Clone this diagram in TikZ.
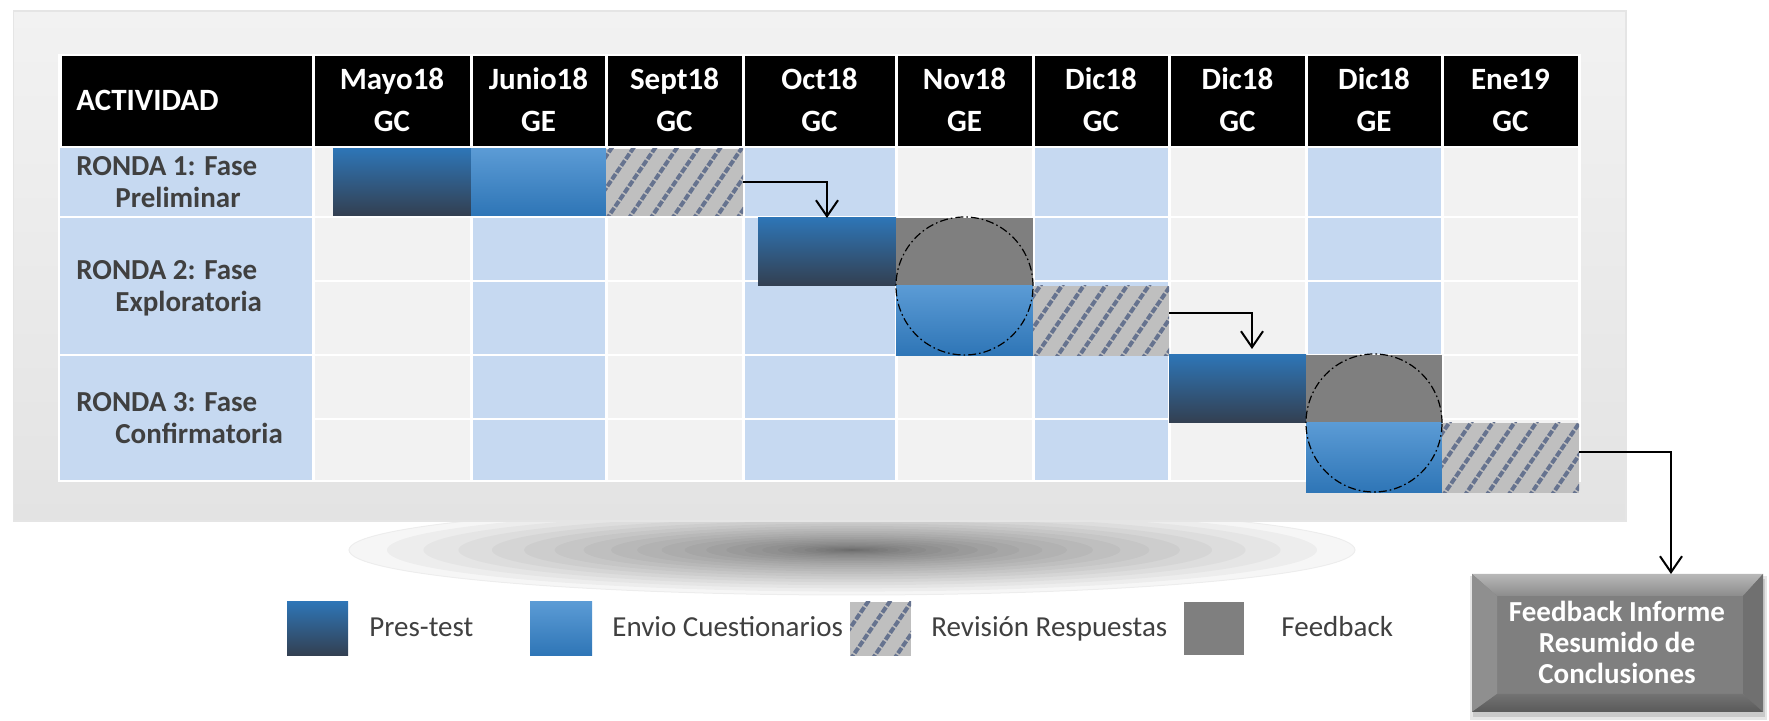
\documentclass[tikz,border=0pt]{standalone}
\usepackage{fontspec}
\setmainfont{Carlito}
\usetikzlibrary{arrows.meta,calc}
\definecolor{lb}{HTML}{C6D9F1}
\definecolor{lg}{HTML}{F2F2F2}
\definecolor{presA}{HTML}{2E75B6}
\definecolor{presB}{HTML}{333F50}
\definecolor{envA}{HTML}{5B9BD5}
\definecolor{envB}{HTML}{2E75B6}
\definecolor{fbc}{HTML}{7F7F7F}
\definecolor{hatchbg}{HTML}{BFBFBF}
\definecolor{hatchln}{HTML}{66738F}
\definecolor{txt}{HTML}{404040}
\definecolor{panA}{HTML}{F2F2F2}
\definecolor{panB}{HTML}{E3E3E3}
\newcommand\mybar[6]{\node[#6, anchor=north west, minimum width={(#4-#2)*0.5pt}, minimum height={(#5-#3)*0.5pt}] (#1) at (#2,#3) {};}
\tikzset{
  barbase/.style={rectangle, inner sep=0pt, outer sep=0pt, draw=none},
  pres/.style={barbase, top color=presA, bottom color=presB},
  envio/.style={barbase, top color=envA, bottom color=envB},
  feedb/.style={barbase, fill=fbc},
  hatchfill/.style={barbase, fill=hatchbg, path picture={
    \foreach \k in {-6,...,9}{
      \draw[hatchln, line width=2pt, dash pattern=on 3.2pt off 0.9pt]
        ([xshift=\k*10.85pt, yshift=-2pt]path picture bounding box.south west) -- ++(30pt,44pt);
    }}},
  hdrtxt/.style={anchor=base, text=white, font=\fontsize{15.5pt}{18pt}\selectfont\bfseries, inner sep=0pt},
  lbl/.style={anchor=base west, text=txt, font=\fontsize{14.5pt}{17pt}\selectfont\bfseries, inner sep=0pt},
  legtxt/.style={anchor=base west, text=txt, font=\fontsize{14.5pt}{17pt}\selectfont, inner sep=0pt},
  boxtxt/.style={anchor=base, text=white, font=\fontsize{14.5pt}{17pt}\selectfont\bfseries, inner sep=0pt},
  arr/.style={draw=black, line width=1pt, -{Straight Barb[length=8pt,width=11pt,line width=1pt]}},
  ellp/.style={draw=black, line width=0.6pt, dash pattern=on 4pt off 1.5pt on 0.8pt off 1.5pt},
}
\begin{document}
\begin{tikzpicture}[x=0.5pt,y=-0.5pt]
\useasboundingbox (0,0) rectangle (1769,721);
% shadow under panel
\foreach \k in {1,...,26}{
  \pgfmathsetmacro\s{(\k/26)^2}
  \fill[black, opacity=0.034] (852,550) ellipse [x radius=\s*251.5pt, y radius=\s*22.5pt];
}
\draw[black!7, line width=0.5pt] (852,550) ellipse [x radius=251.5pt, y radius=22.5pt];
% panel
\shade[top color=panA, bottom color=panB, draw=black!10, line width=0.6pt] (13.5,11) rectangle (1626,521);
% table base
\fill[white] (58,54) rectangle (1581,482);
% header cells
\foreach \xa/\xb in {60/313, 313/471, 471/606, 606/743, 743/896, 896/1033, 1033/1169, 1169/1306, 1306/1442, 1442/1579}{
  \fill[black] ({\xa+1.5},56) rectangle ({\xb-1.5},146);
}
% body cells
\fill[lb] (60,148) rectangle (311.5,216);
\fill[lb] (60,218) rectangle (311.5,354);
\fill[lb] (60,356) rectangle (311.5,480);
\foreach \xa/\xb/\c in {313/471/lg, 471/606/lb, 606/743/lg, 743/896/lb, 896/1033/lg, 1033/1169/lb, 1169/1306/lg, 1306/1442/lb, 1442/1579/lg}{
  \foreach \ya/\yb in {148/216, 218/280, 282/354, 356/418, 420/480}{
    \fill[\c] ({\xa+1.5},\ya) rectangle ({\xb-1.5},\yb);
  }
}
% header text
\node[hdrtxt, anchor=base west] (act) at (76,111) {ACTIVIDAD};
\foreach \xa/\xb/\ta/\tb [count=\i] in {313/471/Mayo18/GC, 471/606/Junio18/GE, 606/743/Sept18/GC, 743/896/Oct18/GC, 896/1033/Nov18/GE, 1033/1169/Dic18/GC, 1169/1306/Dic18/GC, 1306/1442/Dic18/GE, 1442/1579/Ene19/GC}{
  \node[hdrtxt] (ha\i) at ({(\xa+\xb)/2},90) {\ta};
  \node[hdrtxt] (hb\i) at ({(\xa+\xb)/2},132) {\tb};
}
% row labels
\node[lbl] (r1a) at (76,176) {RONDA 1: Fase};
\node[lbl] (r1b) at (115,208) {Preliminar};
\node[lbl] (r2a) at (76,280) {RONDA 2: Fase};
\node[lbl] (r2b) at (115,312) {Exploratoria};
\node[lbl] (r3a) at (76,412) {RONDA 3: Fase};
\node[lbl] (r3b) at (115,444) {Confirmatoria};
% bars
\mybar{pre1}{333}{149}{471}{216}{pres}
\mybar{env1}{471}{149}{606}{216}{envio}
\mybar{rev1}{606}{149}{743}{216}{hatchfill}
\mybar{pre2}{758}{218}{896}{286}{pres}
\mybar{fb2}{896}{218}{1033}{286}{feedb}
\mybar{env2}{896}{286}{1033}{356}{envio}
\mybar{rev2}{1033}{286}{1169}{356}{hatchfill}
\mybar{pre3}{1169}{355}{1306}{423}{pres}
\mybar{fb3}{1306}{355}{1442}{423}{feedb}
\mybar{env3}{1306}{423}{1442}{493}{envio}
\mybar{rev3}{1442}{423}{1579}{493}{hatchfill}
% ellipses
\draw[ellp] (fb2.south) ellipse [x radius=34.25pt, y radius=34.5pt];
\draw[ellp] (fb3.south) ellipse [x radius=34pt, y radius=34.5pt];
% final box
\fill[black, opacity=0.10] (1470,576) rectangle (1767,720);
\fill[black, opacity=0.12] (1473,579) rectangle (1765,717);
\mybar{box}{1472}{574}{1763}{712}{feedb}
\shade[top color=black!28, bottom color=black!45] (box.north west) -- (box.north east) -- ([xshift=-10pt,yshift=-11pt]box.north east) -- ([xshift=12.5pt,yshift=-11pt]box.north west) -- cycle;
\fill[black!44] (box.north west) -- ([xshift=12.5pt,yshift=-11pt]box.north west) -- ([xshift=12.5pt,yshift=9pt]box.south west) -- (box.south west) -- cycle;
\fill[black!56] (box.north east) -- ([xshift=-10pt,yshift=-11pt]box.north east) -- ([xshift=-10pt,yshift=9pt]box.south east) -- (box.south east) -- cycle;
\shade[top color=black!55, bottom color=black!65] (box.south west) -- ([xshift=12.5pt,yshift=9pt]box.south west) -- ([xshift=-10pt,yshift=9pt]box.south east) -- (box.south east) -- cycle;
\node[boxtxt] (bt1) at (1617,622) {Feedback Informe};
\node[boxtxt] (bt2) at (1617,653) {Resumido de};
\node[boxtxt] (bt3) at (1617,684) {Conclusiones};
% arrows
\draw[arr] (rev1.east) -| (pre2.north);
\draw[arr] ([yshift=4pt]rev2.east) -| ([xshift=7.25pt,yshift=3pt]pre3.north);
\draw[arr] ([yshift=3pt]rev3.east) -| ([xshift=26.75pt]box.north);
% legend
\mybar{lg1}{287}{602}{348}{656}{pres}
\mybar{lg2}{530}{602}{592}{656}{envio}
\mybar{lg3}{850}{602}{911}{656}{hatchfill}
\mybar{lg4}{1184}{602}{1244}{655}{feedb}
\node[legtxt] (lt1) at (369,637) {Pres-test};
\node[legtxt] (lt2) at (612,637) {Envio Cuestionarios};
\node[legtxt] (lt3) at (931,637) {Revisión Respuestas};
\node[legtxt] (lt4) at (1281,637) {Feedback};
\end{tikzpicture}
\end{document}
